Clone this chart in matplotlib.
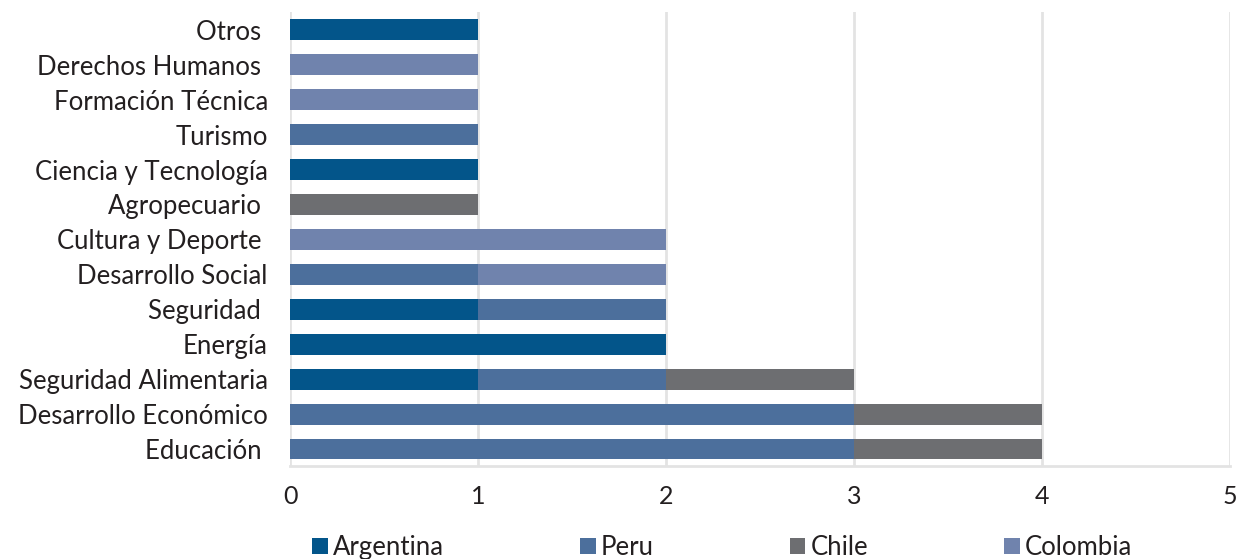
import matplotlib.pyplot as plt
import numpy as np

categories = ['Educación ', 'Desarrollo Económico', 'Seguridad Alimentaria', 'Energía',
              'Seguridad ', 'Desarrollo Social', 'Cultura y Deporte ', 'Agropecuario ',
              'Ciencia y Tecnología', 'Turismo', 'Formación Técnica', 'Derechos Humanos ',
              'Otros ']
argentina = [0, 0, 1, 2, 1, 0, 0, 0, 1, 0, 0, 0, 1]
peru = [3, 3, 1, 0, 1, 1, 0, 0, 0, 1, 0, 0, 0]
chile = [1, 1, 1, 0, 0, 0, 0, 1, 0, 0, 0, 0, 0]
colombia = [0, 0, 0, 0, 0, 1, 2, 0, 0, 0, 1, 1, 0]

series = [('Argentina', argentina, '#03558a'),
          ('Peru', peru, '#4c6f9c'),
          ('Chile', chile, '#6d6e71'),
          ('Colombia', colombia, '#7083ad')]

plt.rcParams['font.family'] = ['Lato', 'DejaVu Sans']

fig = plt.figure(figsize=(12.37, 5.59), dpi=100)
ax = fig.add_axes([0.2345, 0.1655, 0.7595, 0.8125])

y = np.arange(len(categories))
left = np.zeros(len(categories))
for name, vals, color in series:
    vals = np.array(vals, dtype=float)
    ax.barh(y, vals, left=left, height=0.6, color=color, label=name, zorder=3)
    left += vals

ax.set_xlim(0, 5)
ax.set_ylim(-0.5, len(categories) - 0.5)
ax.set_yticks(y)
ax.set_yticklabels(categories, fontsize=18.5, color='#231f20')
ax.set_xticks(range(6))
ax.tick_params(axis='x', labelsize=18, colors='#231f20', length=0, pad=13)
ax.tick_params(axis='y', length=0, pad=16)
ax.grid(axis='x', color='#e3e3e3', linewidth=2, zorder=0)
for s in ['top', 'right', 'left']:
    ax.spines[s].set_visible(False)
ax.spines['bottom'].set_color('#e3e3e3')
ax.spines['bottom'].set_linewidth(2)

ax.legend(loc='upper center', bbox_to_anchor=(0.46, -0.1), ncol=4, frameon=False,
          fontsize=18.5, handlelength=0.6, handleheight=0.6, handletextpad=0.2,
          columnspacing=5.3, labelcolor='#231f20')

fig.savefig('out.png', dpi=100)
